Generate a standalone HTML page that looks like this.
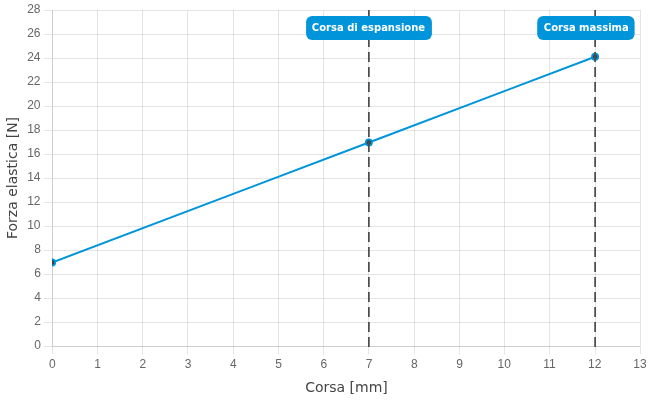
<!DOCTYPE html>
<html lang="it">
<head>
<meta charset="utf-8">
<title>Forza elastica</title>
<style>
html,body{margin:0;padding:0;background:#fff;}
body{width:650px;height:400px;overflow:hidden;}
svg{display:block;}
.tick{font-family:"Liberation Sans",sans-serif;font-size:12px;fill:#666;}
.title{font-family:"DejaVu Sans","Liberation Sans",sans-serif;font-size:14px;fill:#444;}
.lbl{font-family:"DejaVu Sans","Liberation Sans",sans-serif;font-size:10px;font-weight:bold;fill:#fff;}
</style>
</head>
<body>
<svg width="650" height="400" viewBox="0 0 650 400">
<defs>
<clipPath id="area"><rect x="52" y="9" width="589.25" height="338"/></clipPath>
<clipPath id="area2"><rect x="52" y="10" width="589" height="337"/></clipPath>
</defs>
<rect width="650" height="400" fill="#fff"/>

<g fill="rgba(0,0,0,0.1)">
<rect x="52" y="10" width="1" height="336"/>
<rect x="52" y="346.5" width="1" height="8"/>
<rect x="97" y="10" width="1" height="336"/>
<rect x="97" y="346.5" width="1" height="8"/>
<rect x="142" y="10" width="1" height="336"/>
<rect x="142" y="346.5" width="1" height="8"/>
<rect x="187" y="10" width="1" height="336"/>
<rect x="187" y="346.5" width="1" height="8"/>
<rect x="233" y="10" width="1" height="336"/>
<rect x="233" y="346.5" width="1" height="8"/>
<rect x="278" y="10" width="1" height="336"/>
<rect x="278" y="346.5" width="1" height="8"/>
<rect x="323" y="10" width="1" height="336"/>
<rect x="323" y="346.5" width="1" height="8"/>
<rect x="368" y="10" width="1" height="336"/>
<rect x="368" y="346.5" width="1" height="8"/>
<rect x="414" y="10" width="1" height="336"/>
<rect x="414" y="346.5" width="1" height="8"/>
<rect x="459" y="10" width="1" height="336"/>
<rect x="459" y="346.5" width="1" height="8"/>
<rect x="504" y="10" width="1" height="336"/>
<rect x="504" y="346.5" width="1" height="8"/>
<rect x="549" y="10" width="1" height="336"/>
<rect x="549" y="346.5" width="1" height="8"/>
<rect x="595" y="10" width="1" height="336"/>
<rect x="595" y="346.5" width="1" height="8"/>
<rect x="640" y="10" width="1" height="336"/>
<rect x="640" y="346.5" width="1" height="8"/>
<rect x="53" y="346" width="587.25" height="1"/>
<rect x="44" y="346" width="8" height="1"/>
<rect x="53" y="322" width="587.25" height="1"/>
<rect x="44" y="322" width="8" height="1"/>
<rect x="53" y="298" width="587.25" height="1"/>
<rect x="44" y="298" width="8" height="1"/>
<rect x="53" y="274" width="587.25" height="1"/>
<rect x="44" y="274" width="8" height="1"/>
<rect x="53" y="250" width="587.25" height="1"/>
<rect x="44" y="250" width="8" height="1"/>
<rect x="53" y="226" width="587.25" height="1"/>
<rect x="44" y="226" width="8" height="1"/>
<rect x="53" y="202" width="587.25" height="1"/>
<rect x="44" y="202" width="8" height="1"/>
<rect x="53" y="178" width="587.25" height="1"/>
<rect x="44" y="178" width="8" height="1"/>
<rect x="53" y="154" width="587.25" height="1"/>
<rect x="44" y="154" width="8" height="1"/>
<rect x="53" y="130" width="587.25" height="1"/>
<rect x="44" y="130" width="8" height="1"/>
<rect x="53" y="106" width="587.25" height="1"/>
<rect x="44" y="106" width="8" height="1"/>
<rect x="53" y="82" width="587.25" height="1"/>
<rect x="44" y="82" width="8" height="1"/>
<rect x="53" y="58" width="587.25" height="1"/>
<rect x="44" y="58" width="8" height="1"/>
<rect x="53" y="34" width="587.25" height="1"/>
<rect x="44" y="34" width="8" height="1"/>
<rect x="53" y="10" width="587.25" height="1"/>
<rect x="44" y="10" width="8" height="1"/>
<rect x="52" y="10" width="1" height="337"/>
<rect x="52" y="346" width="588.25" height="1"/>
</g>
<g class="tick" text-anchor="end">
<text x="40.9" y="348.8">0</text>
<text x="40.9" y="324.8">2</text>
<text x="40.9" y="300.8">4</text>
<text x="40.9" y="276.8">6</text>
<text x="40.9" y="252.8">8</text>
<text x="40.5" y="228.8">10</text>
<text x="40.5" y="204.8">12</text>
<text x="40.5" y="180.8">14</text>
<text x="40.5" y="156.8">16</text>
<text x="40.5" y="132.8">18</text>
<text x="40.5" y="108.8">20</text>
<text x="40.5" y="84.8">22</text>
<text x="40.5" y="60.8">24</text>
<text x="40.5" y="36.8">26</text>
<text x="40.5" y="12.8">28</text>
</g>
<g class="tick" text-anchor="middle">
<text x="52.30" y="368">0</text>
<text x="97.55" y="368">1</text>
<text x="142.80" y="368">2</text>
<text x="188.05" y="368">3</text>
<text x="233.30" y="368">4</text>
<text x="278.55" y="368">5</text>
<text x="323.80" y="368">6</text>
<text x="369.05" y="368">7</text>
<text x="414.30" y="368">8</text>
<text x="459.55" y="368">9</text>
<text x="504.25" y="368">10</text>
<text x="549.50" y="368">11</text>
<text x="594.75" y="368">12</text>
<text x="640.00" y="368">13</text>
</g>
<text class="title" text-anchor="middle" x="346.5" y="392">Corsa [mm]</text>
<text class="title" text-anchor="middle" transform="translate(17,178) rotate(-90)">Forza elastica [N]</text>
<g clip-path="url(#area)">
<polyline fill="none" stroke="#0095da" stroke-width="2" stroke-linejoin="round" points="52.10,262.50 368.85,142.50 595.10,56.79"/>
<circle cx="52.10" cy="262.50" r="3.1" fill="#404040" stroke="#0095da" stroke-width="1.8"/>
<circle cx="368.85" cy="142.50" r="3.1" fill="#404040" stroke="#0095da" stroke-width="1.8"/>
<circle cx="595.10" cy="56.79" r="3.1" fill="#404040" stroke="#0095da" stroke-width="1.8"/>
</g>
<g clip-path="url(#area2)">
<line x1="368.87" y1="7" x2="368.87" y2="347" stroke="#4e4e4e" stroke-width="1.75" stroke-dasharray="10 5"/>
<line x1="595.12" y1="7" x2="595.12" y2="347" stroke="#4e4e4e" stroke-width="1.75" stroke-dasharray="10 5"/>
</g>
<rect x="306.1" y="16" width="125.8" height="24" rx="6" ry="6" fill="#0095da"/>
<text class="lbl" text-anchor="middle" x="368.5" y="31.3">Corsa di espansione</text>
<rect x="537.2" y="16" width="97.4" height="24" rx="6" ry="6" fill="#0095da"/>
<text class="lbl" text-anchor="middle" x="586.3" y="31.3">Corsa massima</text>
</svg>
</body>
</html>
